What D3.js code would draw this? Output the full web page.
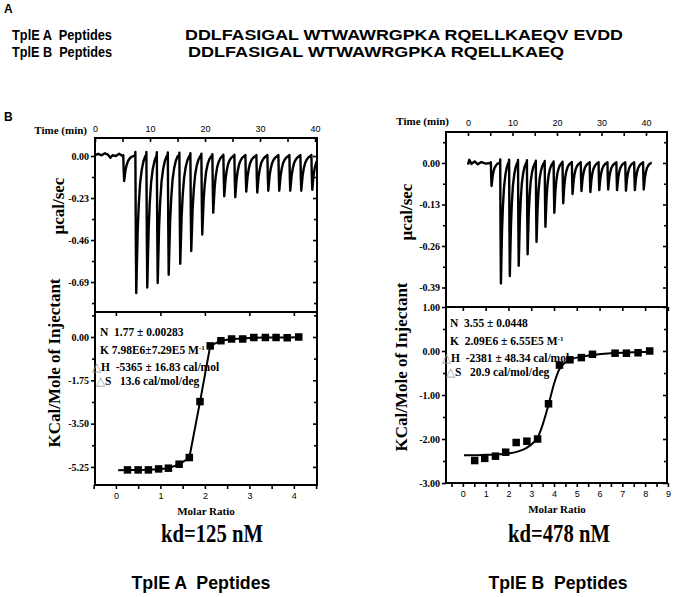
<!DOCTYPE html>
<html>
<head>
<meta charset="utf-8">
<script src="https://cdn.jsdelivr.net/npm/d3@7"></script>
<style>
body { margin: 0; background: #fff; }
svg { display: block; }
text { white-space: pre; }
.serif { font-family: "Liberation Serif", "Times New Roman", serif; font-weight: bold; }
.sans { font-family: "Liberation Sans", Arial, sans-serif; }
.narrow { font-family: "Liberation Sans", Arial, sans-serif; font-weight: bold; }
.axis path { display: none; }
.axis line { stroke: #000; stroke-width: 1.6; }
</style>
</head>
<body>
<div id="chart"></div>
<script>
// ---- panel A text ----
const peptideNames = ["TplE A  Peptides", "TplE B  Peptides"];
const peptideSeqs = ["DDLFASIGAL WTWAWRGPKA RQELLKAEQV EVDD", "DDLFASIGAL WTWAWRGPKA RQELLKAEQ"];

// ---- raw ITC traces (min, µcal/sec) ----
// shape of one injection peak: [minutes after injection, fraction of peak depth]
const spikeShape = [[0, 0], [0.04, -0.03], [0.12, 0.6], [0.2, 1], [0.3, 0.82], [0.45, 0.56],
  [0.65, 0.36], [0.9, 0.2], [1.2, 0.1], [1.5, 0.04], [1.85, 0]];

const baselineA = [[0, 0.005], [0.6, 0.012], [1.2, 0.004], [1.8, 0.015], [2.4, 0.006], [2.8, -0.01],
  [3.2, 0.004], [3.8, 0.0], [4.4, 0.012], [5.0, 0.0]];
const injTimesA = [5.1, 7.3, 9.3, 11.2, 13.2, 15.3, 17.3, 19.3, 21.3, 23.3, 25.3, 27.3, 29.3, 31.3, 33.3, 35.3, 37.3, 39.3];
const injDepthsA = [0.137, 0.75, 0.72, 0.695, 0.65, 0.59, 0.52, 0.43, 0.31, 0.22, 0.225, 0.195, 0.20, 0.19, 0.19, 0.19, 0.19, 0.185];
const traceEndA = 41;

const baselineB = [[0, -0.005], [0.3, 0.01], [0.8, -0.003], [1.5, 0.005], [2.2, -0.004], [3.0, 0.003],
  [4.0, -0.002], [5.0, 0.0]];
const injTimesB = [5.1, 7.2, 9.2, 11.2, 13.2, 15.2, 17.2, 19.2, 21.2, 23.3, 25.3, 27.3, 29.3, 31.3, 33.3, 35.3, 37.3, 39.3];
const injDepthsB = [0.072, 0.377, 0.354, 0.322, 0.286, 0.247, 0.20, 0.156, 0.126, 0.097, 0.088, 0.091, 0.085, 0.083, 0.085, 0.087, 0.085, 0.083];
const traceEndB = 41.3;

// ---- integrated heats (molar ratio, kcal/mol of injectant) ----
const ratioA = [0.26, 0.50, 0.73, 0.96, 1.18, 1.42, 1.65, 1.89, 2.12, 2.36, 2.60, 2.85, 3.10, 3.36, 3.60, 3.85, 4.11];
const heatA = [-5.37, -5.37, -5.37, -5.33, -5.30, -5.14, -4.87, -2.61, -0.36, -0.15, -0.08, -0.08, -0.02, -0.02, -0.02, -0.03, 0.0];
const fitRatioA = [0.05, 0.26, 0.50, 0.73, 0.96, 1.18, 1.42, 1.65, 1.89, 2.12, 2.36, 2.60, 2.85, 3.10, 3.36, 3.60, 3.85, 4.11];
const fitHeatA = [-5.38, -5.37, -5.37, -5.36, -5.34, -5.30, -5.15, -4.88, -2.62, -0.36, -0.15, -0.08, -0.06, -0.03, -0.02, -0.02, -0.02, -0.01];

const ratioB = [0.52, 0.96, 1.43, 1.88, 2.34, 2.81, 3.28, 3.76, 4.24, 4.70, 5.20, 5.69, 6.68, 7.18, 7.69, 8.20];
const heatB = [-2.49, -2.44, -2.39, -2.30, -2.08, -2.05, -2.00, -1.20, -0.32, -0.20, -0.15, -0.075, -0.05, -0.05, -0.04, 0.0];
const fitRatioB = [0.05, 0.5, 1.0, 1.5, 2.0, 2.5, 2.8, 3.1, 3.3, 3.5, 3.76, 4.0, 4.2, 4.5, 4.8, 5.2, 5.7, 6.5, 7.5, 8.2];
const fitHeatB = [-2.37, -2.37, -2.36, -2.35, -2.33, -2.27, -2.2, -2.08, -1.95, -1.68, -1.22, -0.75, -0.45, -0.26, -0.18, -0.13, -0.09, -0.05, -0.03, -0.02];

// ---- fit parameters: [gray prefix, text, superscript] ----
const paramsA = [["", "N  1.77 ± 0.00283", ""], ["", "K 7.98E6±7.29E5 M", "-1"],
  ["△", "H  -5365 ± 16.83 cal/mol", ""], ["△", "S   13.6 cal/mol/deg", ""]];
const paramsB = [["", "N  3.55 ± 0.0448", ""], ["", "K  2.09E6 ± 6.55E5 M", "-1"],
  ["△", "H  -2381 ± 48.34 cal/mol", ""], ["△", "S   20.9 cal/mol/deg", ""]];

// ---- tick values ----
const timeTicks = [0, 5, 10, 15, 20, 25, 30, 35, 40];
const powerMajorA = [0, -0.23, -0.46, -0.69];
const powerMinorA = [-0.115, -0.345, -0.575, -0.805];
const heatMajorA = [0, -1.75, -3.5, -5.25];
const heatMinorA = [0.875, -0.875, -2.625, -4.375];
const ratioTicksA = [-0.5, 0, 0.5, 1, 1.5, 2, 2.5, 3, 3.5, 4, 4.5];
const powerMajorB = [0, -0.13, -0.26, -0.39];
const powerMinorB = [0.065, -0.065, -0.195, -0.325];
const heatMajorB = [1, 0, -1, -2, -3];
const heatMinorB = [0.5, -0.5, -1.5, -2.5];
const ratioTicksB = [-0.5, 0, 0.5, 1, 1.5, 2, 2.5, 3, 3.5, 4, 4.5, 5, 5.5, 6, 6.5, 7, 7.5, 8, 8.5, 9];

const kdLabels = ["kd=125 nM", "kd=478 nM"];

const width = 674, height = 597;

const svg = d3.select("#chart")
  .append("svg")
  .attr("width", width)
  .attr("height", height);

// ---- panel A: sequences ----
svg.append("text").attr("class", "sans").attr("x", 4).attr("y", 13)
  .attr("font-size", 12).attr("font-weight", "bold").text("A");
svg.append("text").attr("class", "sans").attr("x", 4).attr("y", 121)
  .attr("font-size", 12).attr("font-weight", "bold").text("B");

const seqRows = [{y: 40, nameW: 100, seqX: 185, seqW: 438}, {y: 57, nameW: 100, seqX: 188, seqW: 376}];
seqRows.forEach((r, i) => {
  svg.append("text").attr("class", "narrow").attr("x", 12).attr("y", r.y)
    .attr("font-size", 14.5).attr("textLength", r.nameW).attr("lengthAdjust", "spacingAndGlyphs")
    .text(peptideNames[i]);
  svg.append("text").attr("class", "narrow").attr("x", r.seqX).attr("y", r.y)
    .attr("font-size", 14.5).attr("textLength", r.seqW).attr("lengthAdjust", "spacingAndGlyphs")
    .text(peptideSeqs[i]);
});

function buildTrace(baseline, times, depths, end) {
  const pts = baseline.slice();
  times.forEach((t, i) => {
    const next = i < times.length - 1 ? times[i + 1] : end;
    spikeShape.forEach(([dt, f]) => {
      if (t + dt < next) pts.push([t + dt, -depths[i] * f]);
    });
  });
  pts.push([end, 0]);
  return pts;
}

function drawPanel(p) {
  const xT = d3.scaleLinear().domain(p.timeDomain).range([p.left, p.right]);
  const yT = d3.scaleLinear().domain(p.powerDomain).range([p.top, p.mid]);
  const xM = d3.scaleLinear().domain(p.ratioDomain).range([p.left, p.right]);
  const yM = d3.scaleLinear().domain(p.heatDomain).range([p.mid, p.bottom]);
  const g = svg.append("g");

  // clip for the raw trace
  g.append("clipPath").attr("id", "clip" + p.id)
    .append("rect")
    .attr("x", p.left).attr("y", p.top)
    .attr("width", p.right - p.left).attr("height", p.mid - p.top);

  const trace = buildTrace(p.baseline, p.times, p.depths, p.end);
  g.append("path")
    .datum(trace)
    .attr("clip-path", `url(#clip${p.id})`)
    .attr("fill", "none")
    .attr("stroke", "#000")
    .attr("stroke-width", 2.4)
    .attr("stroke-linejoin", "round")
    .attr("d", d3.line().x(d => xT(d[0])).y(d => yT(d[1])));

  // fit curve + integrated heats
  const fit = p.fitX.map((x, i) => [x, p.fitY[i]]);
  g.append("path")
    .datum(fit)
    .attr("fill", "none")
    .attr("stroke", "#000")
    .attr("stroke-width", 2)
    .attr("d", d3.line().curve(p.smooth ? d3.curveMonotoneX : d3.curveLinear)
      .x(d => xM(d[0])).y(d => yM(d[1])));

  const s = 7.5;
  g.selectAll(".pt")
    .data(p.ratio.map((x, i) => [x, p.heat[i]]))
    .enter()
    .append("rect")
    .attr("class", "pt")
    .attr("x", d => xM(d[0]) - s / 2)
    .attr("y", d => yM(d[1]) - s / 2)
    .attr("width", s)
    .attr("height", s)
    .attr("fill", "#000");

  // axes
  const fmt = d => d.toFixed(2);
  g.append("g").attr("class", "axis")
    .attr("transform", `translate(0,${p.top})`)
    .call(d3.axisTop(xT).tickValues(timeTicks).tickSize(-4).tickPadding(6)
      .tickFormat(d => d % 10 === 0 ? d : ""))
    .selectAll("text").attr("class", "sans").attr("font-size", 9).attr("fill", "#000");

  [[p.powerMajor, yT, 4, true], [p.powerMinor, yT, 3, false],
   [p.heatMajor, yM, 4, true], [p.heatMinor, yM, 3, false]].forEach(([vals, sc, len, lab]) => {
    g.append("g").attr("class", "axis")
      .attr("transform", `translate(${p.left},0)`)
      .call(d3.axisLeft(sc).tickValues(vals).tickSize(len).tickPadding(2)
        .tickFormat(lab ? fmt : ""))
      .selectAll("text").attr("class", "serif").attr("font-size", 10).attr("fill", "#000");
    g.append("g").attr("class", "axis")
      .attr("transform", `translate(${p.right},0)`)
      .call(d3.axisRight(sc).tickValues(vals).tickSize(-len).tickFormat(""));
  });

  g.append("g").attr("class", "axis")
    .attr("transform", `translate(0,${p.bottom})`)
    .call(d3.axisBottom(xM).tickValues(p.ratioTicks).tickSize(4).tickPadding(4)
      .tickFormat(d => Number.isInteger(d) ? d : ""))
    .selectAll("text").attr("class", "sans").attr("font-size", 9).attr("fill", "#000");
  g.append("g").attr("class", "axis")
    .attr("transform", `translate(0,${p.mid})`)
    .call(d3.axisBottom(xM).tickValues(p.ratioTicks.filter(Number.isInteger)).tickSize(4).tickFormat(""));

  // frames
  g.append("rect")
    .attr("x", p.left).attr("y", p.top)
    .attr("width", p.right - p.left).attr("height", p.bottom - p.top)
    .attr("fill", "none").attr("stroke", "#000").attr("stroke-width", 2);
  g.append("line")
    .attr("x1", p.left).attr("x2", p.right).attr("y1", p.mid).attr("y2", p.mid)
    .attr("stroke", "#000").attr("stroke-width", 2);

  // titles
  g.append("text").attr("class", "serif").attr("font-size", 11)
    .attr("x", p.timeTitleX).attr("y", p.timeTitleY).attr("text-anchor", "end")
    .text("Time (min)");
  g.append("text").attr("class", "serif").attr("font-size", 17)
    .attr("text-anchor", "middle")
    .attr("transform", `translate(${p.powerTitle[0]},${p.powerTitle[1]}) rotate(-90)`)
    .text("μcal/sec");
  g.append("text").attr("class", "serif").attr("font-size", 17)
    .attr("text-anchor", "middle")
    .attr("transform", `translate(${p.heatTitle[0]},${p.heatTitle[1]}) rotate(-90)`)
    .text("KCal/Mole of Injectant");
  g.append("text").attr("class", "serif").attr("font-size", 11)
    .attr("x", p.ratioTitle[0]).attr("y", p.ratioTitle[1]).attr("text-anchor", "middle")
    .text("Molar Ratio");
  g.append("text").attr("class", "serif").attr("font-size", 25)
    .attr("x", p.kdPos[0]).attr("y", p.kdPos[1]).attr("text-anchor", "middle")
    .attr("textLength", 102).attr("lengthAdjust", "spacingAndGlyphs")
    .text(p.kd);
  g.append("text").attr("class", "narrow").attr("font-size", 19)
    .attr("x", p.namePos[0]).attr("y", p.namePos[1]).attr("text-anchor", "middle")
    .attr("textLength", 139).attr("lengthAdjust", "spacingAndGlyphs")
    .text(p.name);

  // fit parameters
  const dy = [0, 18, 35, 49], dx = [0, 0, -8, -4];
  p.params.forEach((row, i) => {
    const t = g.append("text").attr("class", "serif").attr("font-size", 11.5)
      .attr("x", p.paramPos[0] + dx[i]).attr("y", p.paramPos[1] + dy[i]);
    if (row[0]) t.append("tspan").attr("fill", "#9a9a9a").attr("font-weight", "normal").text(row[0]);
    t.append("tspan").text(row[1]);
    if (row[2]) t.append("tspan").attr("font-size", 7).attr("dy", -4).text(row[2]);
  });
}

drawPanel({
  id: "A", left: 95, right: 317, top: 138, mid: 312, bottom: 485,
  timeDomain: [0, 40.36], powerDomain: [0.0986, -0.854],
  ratioDomain: [-0.47, 4.52], heatDomain: [1.01, -5.98],
  baseline: baselineA, times: injTimesA, depths: injDepthsA, end: traceEndA,
  ratio: ratioA, heat: heatA, fitX: fitRatioA, fitY: fitHeatA, smooth: false,
  powerMajor: powerMajorA, powerMinor: powerMinorA,
  heatMajor: heatMajorA, heatMinor: heatMinorA, ratioTicks: ratioTicksA,
  timeTitleX: 87, timeTitleY: 134, powerTitle: [64, 206], heatTitle: [60, 363],
  ratioTitle: [206, 515], kdPos: [212, 542], kd: kdLabels[0],
  namePos: [201, 589], name: peptideNames[0],
  params: paramsA, paramPos: [100, 336]
});

drawPanel({
  id: "B", left: 446, right: 667, top: 132, mid: 307, bottom: 483,
  timeDomain: [-4.94, 44.72], powerDomain: [0.097, -0.451],
  ratioDomain: [-0.74, 8.96], heatDomain: [1, -3],
  baseline: baselineB, times: injTimesB, depths: injDepthsB, end: traceEndB,
  ratio: ratioB, heat: heatB, fitX: fitRatioB, fitY: fitHeatB, smooth: true,
  powerMajor: powerMajorB, powerMinor: powerMinorB,
  heatMajor: heatMajorB, heatMinor: heatMinorB, ratioTicks: ratioTicksB,
  timeTitleX: 449, timeTitleY: 125, powerTitle: [412, 212], heatTitle: [407, 367],
  ratioTitle: [557, 513], kdPos: [559, 542], kd: kdLabels[1],
  namePos: [558, 589], name: peptideNames[1],
  params: paramsB, paramPos: [450, 327]
});
</script>
</body>
</html>
